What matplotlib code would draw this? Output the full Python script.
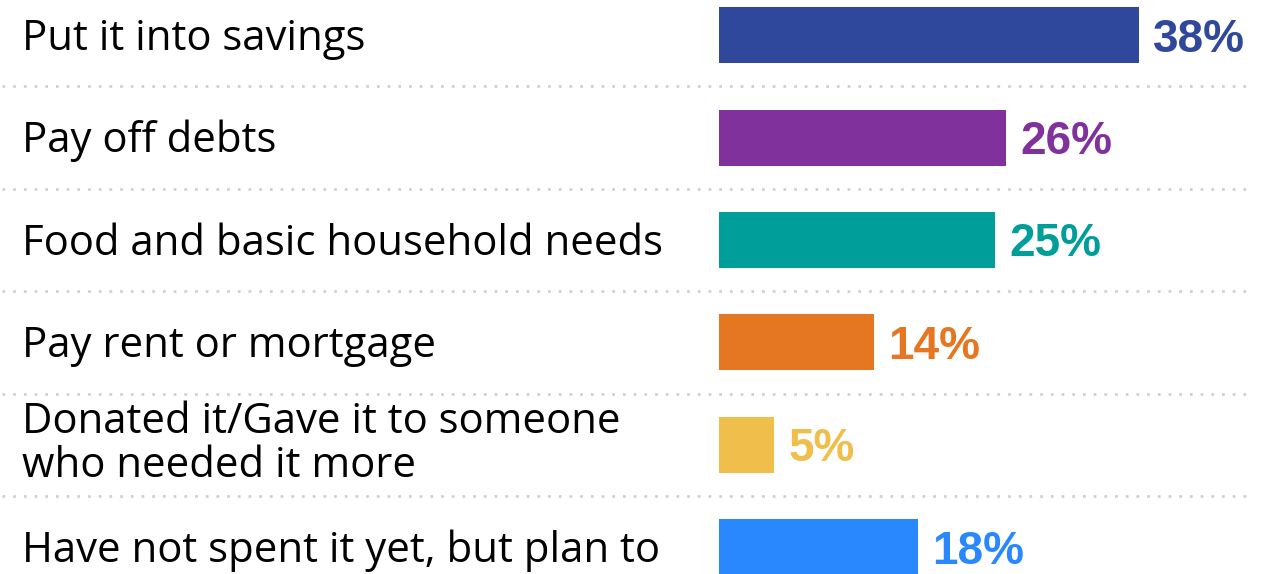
import numpy as np
import matplotlib
matplotlib.use('Agg')
import matplotlib.pyplot as plt

# survey answers, top to bottom
categories = ['Put it into savings',
              'Pay off debts',
              'Food and basic household needs',
              'Pay rent or mortgage',
              'Donated it/Gave it to someone\nwho needed it more',
              'Have not spent it yet, but plan to']
values = [38, 26, 25, 14, 5, 18]
value_labels = ['38%', '26%', '25%', '14%', '5%', '18%']
colors = ['#30489C', '#80319B', '#009E9A', '#E67722', '#F0BE4B', '#2A88FE']

DPI = 100
W, H = 1278, 574
px_per_pct = 11.05      # horizontal scale, pixels per percent
bar_x0 = 719            # pixel where bars start
row0 = 35               # pixel centre of first row
row_h = 102.5           # pixel distance between rows

fig = plt.figure(figsize=(W / DPI, H / DPI), dpi=DPI)
ax = fig.add_axes([0, 0, 1, 1])
ax.set_xlim(-bar_x0 / px_per_pct, (W - bar_x0) / px_per_pct)
ax.set_ylim(((H - row0) / row_h), -row0 / row_h)
ax.axis('off')

y = np.arange(len(categories))
ax.barh(y, values, height=56 / row_h, color=colors, left=0)

# dotted separators between rows
for i in range(len(categories) - 1):
    ax.plot([-bar_x0 / px_per_pct + 2 / px_per_pct, (1246 - bar_x0) / px_per_pct],
            [i + 0.5, i + 0.5], color='#CFCFCF', lw=1.95,
            linestyle=(0, (1, 2.95)), solid_capstyle='butt')

cap_px = 30
line_px = 17.5   # baseline shift per extra line (va='baseline' uses the last line)
for i, (lab, v, vl, c) in enumerate(zip(categories, values, value_labels, colors)):
    n = lab.count('\n') + 1
    base = i + (cap_px / 2 + (n - 1) * line_px) / row_h
    ax.text((22 - bar_x0) / px_per_pct, base, lab, fontsize=30.2,
            family='Open Sans', va='baseline', ha='left', linespacing=1.08,
            color='black')
    ax.text(v + 14 / px_per_pct, i + 16.5 / row_h, vl, fontsize=33,
            family='Liberation Sans', fontweight='bold', color=c,
            va='baseline', ha='left')

fig.savefig('out.png', dpi=DPI)
